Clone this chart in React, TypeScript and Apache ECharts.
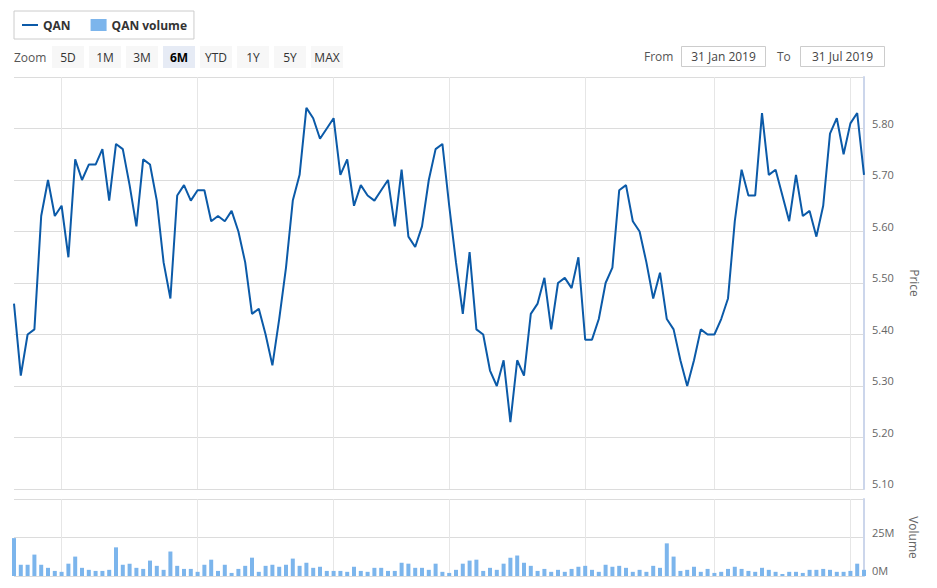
import React, { useEffect, useRef } from 'react';
import * as echarts from 'echarts';

const dates: string[] = [
  '2019-01-31',
  '2019-02-01', '2019-02-04', '2019-02-05', '2019-02-06', '2019-02-07', '2019-02-08',
  '2019-02-11', '2019-02-12', '2019-02-13', '2019-02-14', '2019-02-15',
  '2019-02-18', '2019-02-19', '2019-02-20', '2019-02-21', '2019-02-22',
  '2019-02-25', '2019-02-26', '2019-02-27', '2019-02-28',
  '2019-03-01', '2019-03-04', '2019-03-05', '2019-03-06', '2019-03-07', '2019-03-08',
  '2019-03-11', '2019-03-12', '2019-03-13', '2019-03-14', '2019-03-15',
  '2019-03-18', '2019-03-19', '2019-03-20', '2019-03-21', '2019-03-22',
  '2019-03-25', '2019-03-26', '2019-03-27', '2019-03-28', '2019-03-29',
  '2019-04-01', '2019-04-02', '2019-04-03', '2019-04-04', '2019-04-05',
  '2019-04-08', '2019-04-09', '2019-04-10', '2019-04-11', '2019-04-12',
  '2019-04-15', '2019-04-16', '2019-04-17', '2019-04-18',
  '2019-04-23', '2019-04-24', '2019-04-26', '2019-04-29', '2019-04-30',
  '2019-05-01', '2019-05-02', '2019-05-03',
  '2019-05-06', '2019-05-07', '2019-05-08', '2019-05-09', '2019-05-10',
  '2019-05-13', '2019-05-14', '2019-05-15', '2019-05-16', '2019-05-17',
  '2019-05-20', '2019-05-21', '2019-05-22', '2019-05-23', '2019-05-24',
  '2019-05-27', '2019-05-28', '2019-05-29', '2019-05-30', '2019-05-31',
  '2019-06-03', '2019-06-04', '2019-06-05', '2019-06-06', '2019-06-07',
  '2019-06-11', '2019-06-12', '2019-06-13', '2019-06-14',
  '2019-06-17', '2019-06-18', '2019-06-19', '2019-06-20', '2019-06-21',
  '2019-06-24', '2019-06-25', '2019-06-26', '2019-06-27', '2019-06-28',
  '2019-07-01', '2019-07-02', '2019-07-03', '2019-07-04', '2019-07-05',
  '2019-07-08', '2019-07-09', '2019-07-10', '2019-07-11', '2019-07-12',
  '2019-07-15', '2019-07-16', '2019-07-17', '2019-07-18', '2019-07-19',
  '2019-07-22', '2019-07-23', '2019-07-24', '2019-07-25', '2019-07-26',
  '2019-07-29', '2019-07-30', '2019-07-31',
];

const price: number[] = [
  5.46, 5.32, 5.40, 5.41, 5.63, 5.70, 5.63, 5.65, 5.55, 5.74,
  5.70, 5.73, 5.73, 5.76, 5.66, 5.77, 5.76, 5.69, 5.61, 5.74,
  5.73, 5.66, 5.54, 5.47, 5.67, 5.69, 5.66, 5.68, 5.68, 5.62,
  5.63, 5.62, 5.64, 5.60, 5.54, 5.44, 5.45, 5.40, 5.34, 5.43,
  5.53, 5.66, 5.71, 5.84, 5.82, 5.78, 5.80, 5.82, 5.71, 5.74,
  5.65, 5.69, 5.67, 5.66, 5.68, 5.70, 5.61, 5.72, 5.59, 5.57,
  5.61, 5.70, 5.76, 5.77, 5.65, 5.54, 5.44, 5.56, 5.41, 5.40,
  5.33, 5.30, 5.35, 5.23, 5.35, 5.32, 5.44, 5.46, 5.51, 5.41,
  5.50, 5.51, 5.49, 5.55, 5.39, 5.39, 5.43, 5.50, 5.53, 5.68,
  5.69, 5.62, 5.60, 5.54, 5.47, 5.52, 5.43, 5.41, 5.35, 5.30,
  5.35, 5.41, 5.40, 5.40, 5.43, 5.47, 5.62, 5.72, 5.67, 5.67,
  5.83, 5.71, 5.72, 5.67, 5.62, 5.71, 5.63, 5.64, 5.59, 5.65,
  5.79, 5.82, 5.75, 5.81, 5.83, 5.71,
];

// volume in millions of shares
const volumeM: number[] = [
  24.6, 7.3, 7.3, 13.9, 7.3, 5.3, 3.3, 2.7, 8.0, 12.6,
  5.3, 4.0, 3.3, 3.3, 4.0, 18.6, 7.3, 8.0, 5.3, 4.6,
  10.0, 6.6, 4.0, 15.9, 6.6, 4.6, 4.6, 2.7, 7.3, 10.6,
  3.3, 7.3, 2.0, 4.6, 6.6, 11.9, 2.7, 6.6, 7.3, 6.0,
  7.3, 11.3, 6.6, 8.6, 5.3, 6.0, 3.3, 3.3, 3.3, 2.7,
  6.0, 3.3, 2.7, 5.3, 5.3, 3.3, 3.3, 8.6, 8.0, 5.3,
  5.3, 4.0, 8.0, 2.7, 2.0, 4.0, 8.0, 10.0, 10.6, 3.3,
  5.3, 4.0, 8.0, 11.9, 13.3, 8.6, 6.6, 3.3, 4.6, 2.7,
  4.0, 2.7, 4.6, 6.0, 6.6, 4.0, 2.7, 7.3, 6.0, 6.6,
  5.3, 2.7, 4.0, 2.7, 6.6, 5.3, 21.2, 12.6, 3.3, 4.0,
  6.0, 2.7, 4.6, 2.0, 2.7, 4.6, 6.0, 4.6, 3.3, 2.7,
  5.3, 4.0, 2.7, 1.3, 2.7, 2.7, 2.0, 4.0, 4.0, 4.6,
  4.0, 2.7, 2.7, 3.3, 8.0, 4.0,
];

const gridDates: string[] = [
  '2019-02-11', '2019-03-11', '2019-04-08', '2019-05-06', '2019-06-03', '2019-07-01', '2019-07-29',
];

const zoomButtons: string[] = ['5D', '1M', '3M', '6M', 'YTD', '1Y', '5Y', 'MAX'];
const selectedZoom = '6M';
const fromLabel = 'From';
const toLabel = 'To';
const fromDate = '31 Jan 2019';
const toDate = '31 Jul 2019';

const FONT = '"Open Sans", "DejaVu Sans", sans-serif';

export default function App() {
  const ref = useRef<HTMLDivElement>(null);

  useEffect(() => {
    document.body.style.margin = '0';
    const chart = echarts.init(ref.current!, null, { renderer: 'svg' });

    const graphics: any[] = [];
    graphics.push({
      type: 'text',
      x: 14,
      y: 57,
      style: { text: 'Zoom', font: `12px ${FONT}`, fill: '#555', align: 'left', verticalAlign: 'middle' },
    });
    zoomButtons.forEach((b, i) => {
      const sel = b === selectedZoom;
      const x = 52 + i * 37;
      graphics.push({
        type: 'rect',
        shape: { x, y: 46, width: 32, height: 22 },
        style: { fill: sel ? '#e6ebf5' : '#f7f7f7' },
      });
      graphics.push({
        type: 'text',
        x: x + 16,
        y: 57,
        style: {
          text: b,
          font: `${sel ? 'bold ' : ''}12px ${FONT}`,
          fill: sel ? '#000' : '#333',
          align: 'center',
          verticalAlign: 'middle',
        },
      });
    });
    graphics.push({
      type: 'text', x: 644, y: 56,
      style: { text: fromLabel, font: `12px ${FONT}`, fill: '#555', align: 'left', verticalAlign: 'middle' },
    });
    graphics.push({
      type: 'rect', shape: { x: 681.5, y: 46.5, width: 84, height: 20 },
      style: { fill: '#fff', stroke: '#cccccc', lineWidth: 1 },
    });
    graphics.push({
      type: 'text', x: 723.5, y: 56.5,
      style: { text: fromDate, font: `12px ${FONT}`, fill: '#444', align: 'center', verticalAlign: 'middle' },
    });
    graphics.push({
      type: 'text', x: 777, y: 56,
      style: { text: toLabel, font: `12px ${FONT}`, fill: '#555', align: 'left', verticalAlign: 'middle' },
    });
    graphics.push({
      type: 'rect', shape: { x: 800.5, y: 46.5, width: 84, height: 20 },
      style: { fill: '#fff', stroke: '#cccccc', lineWidth: 1 },
    });
    graphics.push({
      type: 'text', x: 842.5, y: 56.5,
      style: { text: toDate, font: `12px ${FONT}`, fill: '#444', align: 'center', verticalAlign: 'middle' },
    });

    const vSplit = {
      show: true,
      interval: (_i: number, v: string) => gridDates.includes(v),
      lineStyle: { color: '#e6e6e6', width: 1 },
    };

    const option: any = {
      animation: false,
      textStyle: { fontFamily: FONT },
      legend: {
        left: 14,
        top: 11,
        padding: [8, 7, 8, 8],
        itemGap: 20,
        itemWidth: 16,
        itemHeight: 12,
        symbolKeepAspect: true,
        borderColor: '#cccccc',
        borderWidth: 1,
        textStyle: { fontFamily: FONT, fontSize: 12, fontWeight: 'bold', color: '#333' },
        data: [
          { name: 'QAN', icon: 'path://M0,0 L16,0 L16,2 L0,2 Z' },
          { name: 'QAN volume', icon: 'rect' },
        ],
      },
      graphic: graphics,
      grid: [
        { left: 14, right: 73, top: 77, height: 412 },
        { left: 14, right: 73, top: 499, height: 77 },
      ],
      xAxis: [
        {
          type: 'category', gridIndex: 0, data: dates, boundaryGap: false,
          axisLine: { show: false }, axisTick: { show: false }, axisLabel: { show: false },
          splitLine: vSplit,
        },
        {
          type: 'category', gridIndex: 1, data: dates, boundaryGap: false,
          axisLine: { show: false }, axisTick: { show: false }, axisLabel: { show: false },
          splitLine: vSplit,
        },
      ],
      yAxis: [
        {
          type: 'value', gridIndex: 0, position: 'right',
          min: 5.1, max: 5.9, interval: 0.1,
          axisLine: { show: true, lineStyle: { color: '#ccd6eb', width: 2 } },
          axisTick: { show: false },
          axisLabel: {
            color: '#666', fontSize: 11, fontFamily: FONT, margin: 8, verticalAlign: 'bottom',
            formatter: (v: number) => (v > 5.85 ? '' : v.toFixed(2)),
          },
          splitLine: { lineStyle: { color: '#dcdcdc', width: 1 } },
          name: 'Price', nameLocation: 'middle', nameGap: 44, nameRotate: -90,
          nameTextStyle: { color: '#666', fontSize: 12, fontFamily: FONT },
        },
        {
          type: 'value', gridIndex: 1, position: 'right',
          min: 0, max: 50, interval: 25,
          axisLine: { show: true, lineStyle: { color: '#ccd6eb', width: 2 } },
          axisTick: { show: false },
          axisLabel: {
            color: '#666', fontSize: 11, fontFamily: FONT, margin: 8, verticalAlign: 'bottom',
            formatter: (v: number) => (v >= 50 ? '' : `${v}M`),
          },
          splitLine: { lineStyle: { color: '#dcdcdc', width: 1 } },
          name: 'Volume', nameLocation: 'middle', nameGap: 43, nameRotate: -90,
          nameTextStyle: { color: '#666', fontSize: 12, fontFamily: FONT },
        },
      ],
      series: [
        {
          name: 'QAN', type: 'line', xAxisIndex: 0, yAxisIndex: 0,
          data: price, symbol: 'none', showSymbol: false,
          lineStyle: { color: '#0b5aa8', width: 2 },
          itemStyle: { color: '#0b5aa8' },
        },
        {
          name: 'QAN volume', type: 'bar', xAxisIndex: 1, yAxisIndex: 1,
          data: volumeM, barWidth: 4, clip: true,
          itemStyle: { color: '#7cb5ec' },
        },
      ],
    };

    chart.setOption(option);
    return () => chart.dispose();
  }, []);

  return <div ref={ref} style={{ width: 937, height: 588 }} />;
}
